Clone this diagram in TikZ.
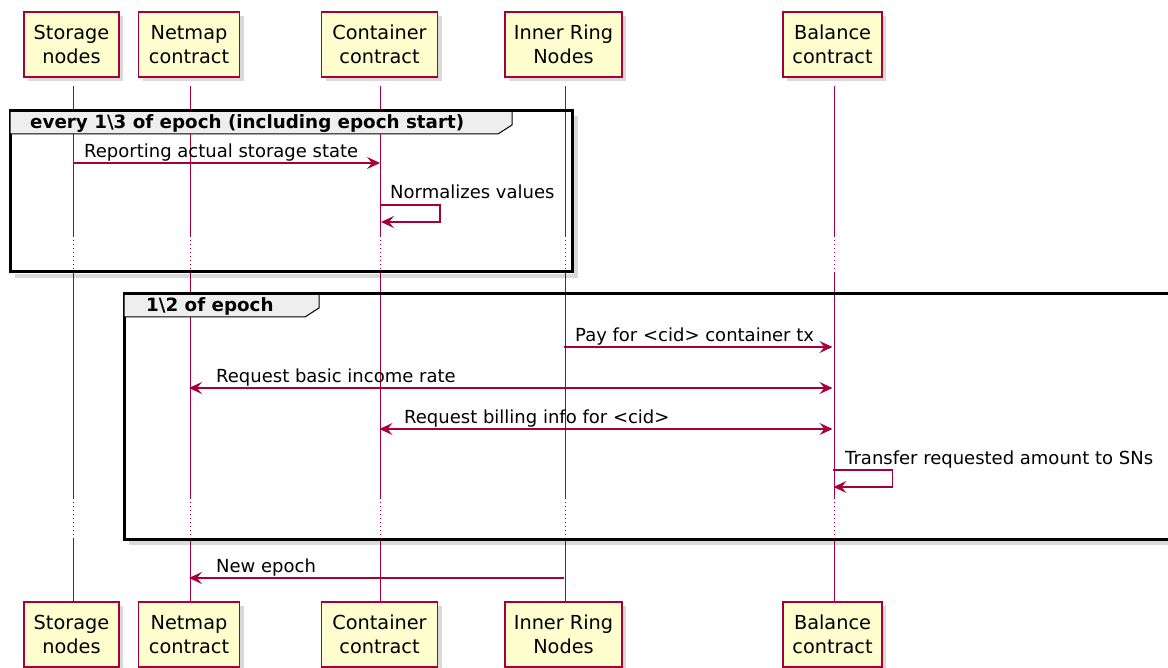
\documentclass[tikz,border=0pt]{standalone}
\usepackage{fontspec}
\setmainfont{DejaVu Sans}
\usetikzlibrary{arrows.meta,shadows,calc}
\definecolor{pborder}{HTML}{A80036}
\definecolor{pfill}{HTML}{FEFECE}
\definecolor{gfill}{HTML}{EEEEEE}
\begin{document}
\begin{tikzpicture}[x=1pt,y=-1pt,
  part/.style={draw=pborder, line width=1.4pt, fill=pfill, minimum height=65pt, align=center,
    font=\fontsize{19.3}{23.5}\selectfont, inner sep=0pt,
    drop shadow={shadow xshift=4pt, shadow yshift=-4pt, opacity=0.25, fill=black!60}},
  life/.style={draw=pborder, line width=1pt},
  lifedot/.style={draw=pborder, line width=1pt, dash pattern=on 1pt off 3pt},
  tip/.tip={Stealth[length=13pt,width=12pt,inset=5pt]},
  msg/.style={draw=pborder, line width=1.2pt, -tip},
  dmsg/.style={draw=pborder, line width=1.2pt, tip-tip},
  mlabel/.style={font=\fontsize{18}{20}\selectfont, anchor=base west, inner sep=0pt},
  gframe/.style={draw=black, line width=3pt},
  gshadow/.style={draw=black, opacity=0.15, line width=4pt},
  ghead/.style={draw=black, line width=1pt, fill=gfill},
  glabel/.style={font=\bfseries\fontsize{18.3}{20}\selectfont, anchor=base west, inner sep=0pt}
]
\useasboundingbox (0,0) rectangle (1168,668);
\clip (0,0) rectangle (1168,668);

% participants
\node[part, minimum width=95pt]  (sT) at (71.5,44.5) {Storage\\nodes};
\node[part, minimum width=101pt] (nT) at (189,44.5) {Netmap\\contract};
\node[part, minimum width=116pt] (cT) at (379.5,44.5) {Container\\contract};
\node[part, minimum width=117pt] (iT) at (563.5,44.5) {Inner Ring\\Nodes};
\node[part, minimum width=99pt]  (bT) at (832.5,44.5) {Balance\\contract};

\node[part, minimum width=95pt]  (sB) at (71.5,634.5) {Storage\\nodes};
\node[part, minimum width=101pt] (nB) at (189,634.5) {Netmap\\contract};
\node[part, minimum width=116pt] (cB) at (379.5,634.5) {Container\\contract};
\node[part, minimum width=117pt] (iB) at (563.5,634.5) {Inner Ring\\Nodes};
\node[part, minimum width=99pt]  (bB) at (832.5,634.5) {Balance\\contract};

% lifelines
\foreach \p/\x in {s/73,n/190,c/380,i/565,b/834}{
  \draw[life] (\x,86) -- (\x,236);
  \draw[lifedot] (\x,236) -- (\x,272);
  \draw[life] (\x,272) -- (\x,498);
  \draw[lifedot] (\x,498) -- (\x,538);
  \draw[life] (\x,538) -- (\p B.north -| \x,0);
}

% group 1
\draw[gshadow] (15,276) -- (576,276) -- (576,116);
\draw[gframe] (10,111) rectangle (572,272);
\draw[ghead] (10,111) -- (512,111) -- (512,125) -- (498,134) -- (10,134) -- cycle;
\draw[gframe] (10,111) -- (572,111);
\node[glabel] (g1) at (30,129) {every 1\textbackslash 3 of epoch (including epoch start)};

% messages group 1
\coordinate (m1s) at (73,163);
\coordinate (m1e) at (380,163);
\draw[msg] (m1s) -- (m1e);
\node[mlabel] (l1) at (84,157.5) {Reporting actual storage state};

\coordinate (m2s) at (380,205);
\draw[msg] (m2s) -- ++(60,0) -- ++(0,17) -- ++(-59,0);
\node[mlabel] (l2) at (390,198.5) {Normalizes values};

% group 2
\draw[gshadow] (129,543) -- (1180,543);
\draw[gframe] (124,294) rectangle (1180,539);
\draw[ghead] (124,294) -- (319,294) -- (319,308) -- (305,317) -- (124,317) -- cycle;
\draw[gframe] (124,294) -- (1180,294);
\node[glabel] (g2) at (146,312) {1\textbackslash 2 of epoch};

\draw[msg] (iT.south |- 0,347) -- (bT.south |- 0,347);
\node[mlabel] (l3) at (575,341.5) {Pay for <cid> container tx};

\draw[dmsg] (nT.south |- 0,388) -- (bT.south |- 0,388);
\node[mlabel] (l4) at (216,382.5) {Request basic income rate};

\draw[dmsg] (cT.south |- 0,429) -- (bT.south |- 0,429);
\node[mlabel] (l5) at (404,423.5) {Request billing info for <cid>};

\draw[msg] (bT.south |- 0,470) -- ++(60,0) -- ++(0,17) -- ++(-59,0);
\node[mlabel] (l6) at (845,464.5) {Transfer requested amount to SNs};

% new epoch
\draw[msg] (iT.south |- 0,578) -- (nT.south |- 0,578);
\node[mlabel] (l7) at (216,572.5) {New epoch};
\end{tikzpicture}
\end{document}
